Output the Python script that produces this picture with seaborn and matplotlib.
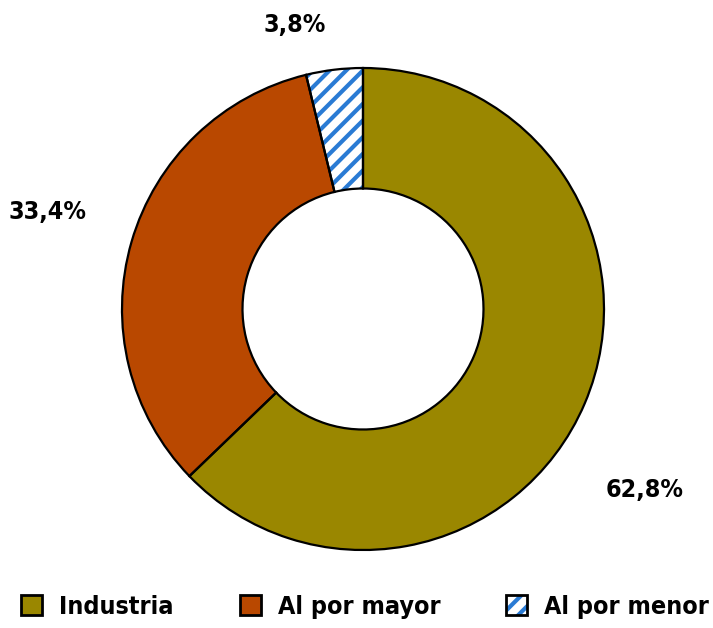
import matplotlib
matplotlib.use("Agg")
import matplotlib.pyplot as plt
import matplotlib.patches as mpatches
from matplotlib import font_manager
from matplotlib.font_manager import FontProperties
import numpy as np
import seaborn as sns

categories = ["Industria", "Al por mayor", "Al por menor"]
shares = [62.8, 33.4, 3.8]
labels = ["62,8%", "33,4%", "3,8%"]
colors = ["#9a8700", "#b94800", "#ffffff"]
hatch_blue = "#2a7bd4"

sns.set_theme(style="white")
plt.rcParams["hatch.linewidth"] = 3.0
plt.rcParams["text.color"] = "black"


def pick_font():
    # narrow bold face, the reference uses a condensed sans
    for name in ["Open Sans", "DejaVu Sans"]:
        for f in font_manager.fontManager.ttflist:
            if f.name == name and f.stretch == "condensed" and f.weight == 700 \
                    and "Italic" not in f.fname and "Oblique" not in f.fname:
                return f.fname
    return None


fpath = pick_font()


def fprop(size):
    if fpath:
        return FontProperties(fname=fpath, size=size)
    return FontProperties(family="DejaVu Sans", weight="bold", size=size)


fig = plt.figure(figsize=(7.13, 6.28), dpi=100)
ax = fig.add_axes([122 / 713, 78 / 628, 482 / 713, 482 / 628])

# fill layer (hatch drawn in edge colour)
wedges, _ = ax.pie(shares, colors=colors, startangle=90, counterclock=False,
                   radius=1, wedgeprops=dict(width=0.5, linewidth=0, edgecolor="none"))
wedges[2].set_hatch("//")
wedges[2].set_edgecolor(hatch_blue)
wedges[2].set_linewidth(0)

# black outlines on top
ax.pie(shares, colors=["none"] * 3, startangle=90, counterclock=False, radius=1,
       wedgeprops=dict(width=0.5, linewidth=1.6, edgecolor="black", fill=False))

ax.set_xlim(-1, 1)
ax.set_ylim(-1, 1)
ax.set_aspect("equal")
ax.axis("off")

# label placement: (angle in degrees, distance from centre in radii)
label_pos = [(-32.7, 1.39), (163.0, 1.37), (103.5, 1.21)]
for lab, (ang, dist) in zip(labels, label_pos):
    a = np.deg2rad(ang)
    ax.text(dist * np.cos(a), dist * np.sin(a), lab, ha="center", va="center",
            fontproperties=fprop(18), color="black", clip_on=False)

hatch_handle = (
    mpatches.Patch(facecolor="white", edgecolor=hatch_blue, linewidth=0, hatch="//"),
    mpatches.Patch(facecolor="none", edgecolor="black", linewidth=2),
)
handles = [
    mpatches.Patch(facecolor=colors[0], edgecolor="black", linewidth=2),
    mpatches.Patch(facecolor=colors[1], edgecolor="black", linewidth=2),
    hatch_handle,
]
leg = fig.legend(handles, categories, loc="center", ncol=3, frameon=False,
                 bbox_to_anchor=(365 / 713, 1 - 607 / 628), handlelength=0.84, handleheight=0.84,
                 handletextpad=0.68, columnspacing=2.65, prop=fprop(18))
for t in leg.get_texts():
    t.set_color("black")

fig.savefig("out.png", dpi=100)
